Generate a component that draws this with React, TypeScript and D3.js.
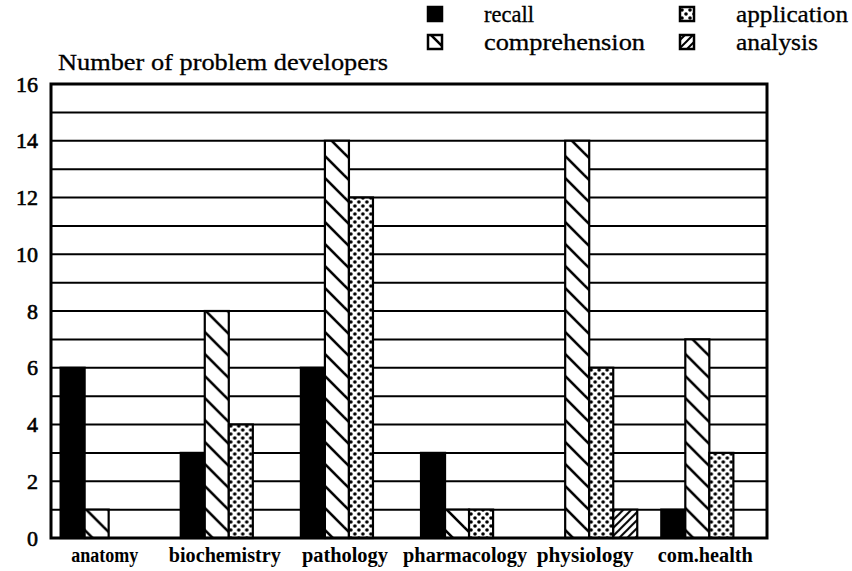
import React from "react";
import * as d3 from "d3";

const categories = ["anatomy", "biochemistry", "pathology", "pharmacology", "physiology", "com.health"];
const seriesNames = ["recall", "comprehension", "application", "analysis"];
const recall = [6, 3, 6, 3, 0, 1];
const comprehension = [1, 8, 14, 1, 14, 7];
const application = [0, 4, 12, 1, 6, 3];
const analysis = [0, 0, 0, 0, 1, 0];
const yTicks = [0, 2, 4, 6, 8, 10, 12, 14, 16];
const gridValues = [1, 2, 3, 4, 5, 6, 7, 8, 9, 10, 11, 12, 13, 14, 15];
const titleText = "Number of problem developers";

const seriesValues = [recall, comprehension, application, analysis];
const fills = ["#000", "url(#pComp)", "url(#pApp)", "url(#pAna)"];

export default function App() {
  const W = 852, H = 571;
  const left = 51, right = 767, top = 84, bottom = 538;
  const x0 = d3.scaleBand<string>().domain(categories).range([left, right]).paddingInner(0.2).paddingOuter(0.08);
  const x1 = d3.scaleBand<string>().domain(seriesNames).range([0, x0.bandwidth()]).padding(0);
  const y = d3.scaleLinear().domain([0, 16]).range([bottom, top]);
  const font = "Liberation Serif, Times New Roman, DejaVu Serif, serif";

  const legend = [
    { name: "recall", x: 428, y: 7, fill: fills[0], len: 50 },
    { name: "comprehension", x: 428, y: 35, fill: fills[1], len: 161 },
    { name: "application", x: 680, y: 7, fill: fills[2], len: 112 },
    { name: "analysis", x: 680, y: 35, fill: fills[3], len: 82 },
  ];
  const labelLens = [67, 112, 86, 124, 97, 95];

  return (
    <svg width={W} height={H} style={{ position: "absolute", left: 0, top: 0, background: "#fff" }}>
      <defs>
        <pattern id="pComp" patternUnits="userSpaceOnUse" width={22} height={22}>
          <rect width={22} height={22} fill="#fff" />
          <line x1={-2} y1={-2} x2={24} y2={24} stroke="#000" strokeWidth={2.6} />
          <line x1={-2} y1={20} x2={2} y2={24} stroke="#000" strokeWidth={2.6} />
          <line x1={20} y1={-2} x2={24} y2={2} stroke="#000" strokeWidth={2.6} />
        </pattern>
        <pattern id="pAna" patternUnits="userSpaceOnUse" width={8} height={8}>
          <rect width={8} height={8} fill="#fff" />
          <line x1={-1} y1={9} x2={9} y2={-1} stroke="#000" strokeWidth={2} />
          <line x1={-1} y1={1} x2={1} y2={-1} stroke="#000" strokeWidth={2} />
          <line x1={7} y1={9} x2={9} y2={7} stroke="#000" strokeWidth={2} />
        </pattern>
        <pattern id="pApp" patternUnits="userSpaceOnUse" width={8} height={8}>
          <rect width={8} height={8} fill="#fff" />
          <circle cx={2} cy={2} r={1.8} fill="#000" />
          <circle cx={6} cy={6} r={1.8} fill="#000" />
        </pattern>
      </defs>

      <text x={58} y={70} fontFamily={font} fontSize={24} textLength={330} lengthAdjust="spacingAndGlyphs"
        stroke="#000" strokeWidth={0.3}>{titleText}</text>

      {legend.map((l) => (
        <g key={l.name}>
          <rect x={l.x} y={l.y} width={14} height={14} fill={l.fill} stroke="#000" strokeWidth={2.5} />
          <text x={l.x + 56} y={l.y + 15} fontFamily={font} fontSize={23} textLength={l.len} lengthAdjust="spacingAndGlyphs"
            stroke="#000" strokeWidth={0.3}>{l.name}</text>
        </g>
      ))}

      {gridValues.map((v) => (
        <line key={v} x1={left} x2={right} y1={y(v)} y2={y(v)} stroke="#000" strokeWidth={2} />
      ))}

      {categories.map((c, i) => (
        <g key={c} transform={`translate(${x0(c)},0)`}>
          {seriesNames.map((s, j) => {
            const v = seriesValues[j][i];
            if (!v) return null;
            return (
              <rect key={s} x={x1(s)} y={y(v)} width={x1.bandwidth()} height={y(0) - y(v)}
                fill={fills[j]} stroke="#000" strokeWidth={2.2} />
            );
          })}
        </g>
      ))}

      <rect x={left} y={top} width={right - left} height={bottom - top} fill="none" stroke="#000" strokeWidth={3} />

      {yTicks.map((t) => (
        <text key={t} x={38} y={y(t)} dy="0.35em" textAnchor="end" fontFamily={font} fontSize={22}
          stroke="#000" strokeWidth={0.6}>{t}</text>
      ))}

      {categories.map((c, i) => (
        <text key={c} x={(x0(c) as number) + x0.bandwidth() / 2 - labelLens[i] / 2 - 4} y={562} fontFamily={font}
          fontWeight="bold" fontSize={20} textLength={labelLens[i]} lengthAdjust="spacingAndGlyphs">{c}</text>
      ))}
    </svg>
  );
}
